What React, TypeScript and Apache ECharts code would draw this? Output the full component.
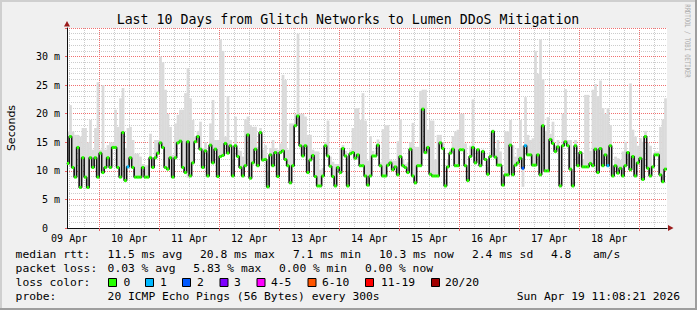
import React, { useEffect, useRef } from 'react';
import * as echarts from 'echarts';

// hours since 09 Apr 00:00
const startHour = 11.139; // Thu Apr 09 11:08:21
const endHour = 251.139; // Sun Apr 19 11:08:21
const firstBucketHour = 11; // hourly RRD buckets

const medianRtt = [
  11.3, 16.0, 10.6, 8.9, 14.1, 7.1, 12.3, 8.9, 7.1, 12.3,
  10.6, 12.3, 8.9, 13.1, 9.7, 10.6, 12.3, 10.6, 14.1, 14.1,
  10.6, 8.9, 16.7, 8.3, 10.7, 12.3, 10.6, 8.9, 8.9, 8.9,
  10.6, 8.9, 8.9, 12.3, 10.6, 12.3, 13.1, 14.9, 14.1, 10.6,
  10.3, 12.3, 8.9, 12.3, 14.9, 15.2, 10.6, 9.7,
  15.1, 9.1, 11.4, 15.1, 16.0, 13.8, 10.6, 13.5, 9.1, 14.5,
  11.4, 13.8, 9.0, 12.5, 12.7, 14.8, 13.1, 14.4, 9.1, 14.4,
  12.5, 10.6, 9.1, 10.9, 16.3, 8.7, 11.4, 13.8, 10.9, 16.7,
  11.9, 12.0, 7.2, 12.8, 10.9, 13.2, 9.0, 13.2, 13.5, 12.0,
  10.9, 7.9, 10.9, 17.9, 19.6, 14.4, 12.6, 14.4,
  9.7, 11.9, 12.7, 9.0, 7.35, 7.35, 9.1, 14.4, 12.6, 10.8,
  9.0, 7.35, 10.6, 9.7, 13.9, 12.6, 7.35, 13.0, 13.2, 12.2,
  12.8, 10.9, 10.9, 9.1, 7.5, 9.1, 12.6, 12.6, 14.5, 10.9,
  9.1, 9.1, 11.0, 11.4, 10.2, 10.7, 9.3, 12.5, 10.9, 10.6,
  9.7, 13.8, 9.1, 7.9, 10.9, 10.9, 20.8, 13.2,
  14.1, 9.4, 9.1, 9.1, 9.1, 14.9, 13.9, 7.35, 10.7, 13.1,
  13.8, 10.9, 10.9, 13.7, 13.7, 10.9, 8.3, 12.5, 14.1, 11.4,
  13.7, 10.9, 13.4, 12.0, 9.4, 12.5, 16.9, 12.4, 11.0, 11.0,
  7.5, 9.3, 9.3, 14.5, 9.3, 11.0, 11.4, 12.2, 10.45, 14.4,
  12.8, 12.8, 11.0, 11.0, 12.8, 9.3, 17.9, 10.0,
  10.0, 15.5, 14.8, 13.4, 14.2, 7.35, 14.4, 15.1, 14.4, 10.3,
  7.35, 14.4, 10.9, 13.2, 10.7, 10.7, 10.7, 11.3, 10.9, 13.8,
  9.7, 13.9, 10.9, 12.8, 10.9, 14.4, 9.1, 10.9, 9.6, 10.45,
  9.1, 10.9, 13.2, 10.2, 12.5, 9.1, 11.4, 12.2, 8.5, 16.0,
  10.45, 9.1, 10.7, 12.8, 12.8, 9.3, 8.1, 10.3,
];

const smokeTop = [
  16.9, 21.5, 16.9, 16.3, 16.3, 16.0, 17.5, 17.5, 15.0, 18.9,
  13.7, 17.5, 25.5, 13.7, 25.0, 13.7, 14.5, 15.0, 15.0, 20.7,
  17.7, 22.7, 24.5, 14.0, 17.5, 17.7, 15.4, 13.0, 13.0, 12.5,
  11.2, 11.0, 11.0, 16.5, 12.4, 15.4, 15.4, 30.0, 29.0, 24.2,
  20.0, 17.7, 12.8, 18.3, 19.8, 20.7, 20.7, 23.6,
  28.0, 22.7, 18.9, 16.0, 17.0, 18.6, 14.0, 15.0, 13.0, 18.3,
  22.4, 15.4, 15.4, 33.0, 31.0, 16.0, 23.1, 15.4, 12.0, 19.5,
  13.7, 13.5, 12.5, 19.0, 19.5, 18.0, 17.7, 17.7, 14.2, 17.5,
  13.7, 14.5, 10.0, 14.0, 15.4, 14.0, 13.7, 14.8, 26.8, 25.9,
  13.7, 18.3, 18.3, 20.0, 34.0, 20.0, 20.0, 19.5,
  16.3, 16.3, 13.7, 13.4, 13.4, 10.2, 10.5, 15.0, 18.8, 12.5,
  11.6, 11.2, 11.2, 14.0, 14.5, 13.5, 10.0, 13.7, 17.5, 21.0,
  21.0, 18.9, 23.6, 18.8, 11.8, 16.1, 13.5, 12.8, 15.5, 11.5,
  17.3, 18.0, 18.0, 12.0, 11.8, 11.8, 15.2, 19.0, 12.0, 11.2,
  11.5, 15.0, 18.4, 14.2, 14.2, 24.0, 24.2, 24.2,
  17.2, 18.8, 18.8, 12.0, 16.3, 16.3, 15.0, 8.5, 12.0, 13.7,
  16.1, 16.9, 17.2, 20.0, 20.0, 14.8, 8.8, 14.4, 22.5, 12.5,
  13.4, 12.0, 13.7, 12.2, 10.7, 12.5, 17.2, 13.8, 15.4, 13.4,
  8.5, 16.9, 16.9, 18.9, 14.5, 12.5, 14.0, 18.9, 14.4, 22.9,
  16.3, 15.4, 15.7, 31.0, 27.0, 33.0, 26.0, 17.0,
  19.4, 16.5, 18.6, 14.5, 15.4, 8.0, 20.0, 24.3, 15.4, 15.4,
  8.0, 15.4, 12.5, 13.5, 12.0, 23.3, 23.3, 13.5, 24.2, 25.2,
  23.1, 25.8, 21.0, 20.0, 21.0, 18.0, 11.0, 12.5, 12.2, 11.9,
  13.4, 15.1, 13.4, 25.3, 17.2, 16.0, 14.4, 15.7, 15.1, 17.0,
  14.9, 14.4, 10.6, 13.4, 13.4, 17.7, 19.0, 22.7,
];

// [bucket index, lowest ping (ms)] where the smoke reaches below the median
const smokeDips = [
  [48, 8.8],
  [182, 7.2],
];

// [bucket index, lost pings out of 20]
const lossBuckets = [
  [24, 1],
  [182, 2],
  [183, 1],
  [216, 1],
];

const lossColors = ['#26ff00', '#00b8ff', '#0059ff', '#7e00ff', '#ff00ff', '#ff5500', '#ff0000', '#a10000'];
const lossLabels = ['0', '1', '2', '3', '4-5', '6-10', '11-19', '20/20'];
const lossBoxX = [108, 145, 182, 219.5, 256.5, 307.5, 365, 431];
const lossLabelX = [123.5, 160, 197, 234, 271, 322, 381, 445];

const dayLabelHours = [12, 36, 60, 84, 108, 132, 156, 180, 204, 228];
const midnightHours = [24, 48, 72, 96, 120, 144, 168, 192, 216, 240];
const sixHourGridHours = [
  12, 18, 30, 36, 42, 54, 60, 66, 78, 84, 90, 102, 108, 114, 126, 132, 138,
  150, 156, 162, 174, 180, 186, 198, 204, 210, 222, 228, 234, 246,
];
const msMajorTicks = [5, 10, 15, 20, 25, 30, 35];
const msMinorTicks = [
  1, 2, 3, 4, 6, 7, 8, 9, 11, 12, 13, 14, 16, 17, 18, 19, 21, 22, 23, 24,
  26, 27, 28, 29, 31, 32, 33, 34,
];

const title = 'Last 10 Days from Glitch Networks to Lumen DDoS Mitigation';
const rttLegend = [
  ['median rtt:', 15.6],
  ['11.5 ms avg', 107.6],
  ['20.8 ms max', 200],
  ['7.1 ms min', 293],
  ['10.3 ms now', 379],
  ['2.4 ms sd', 472],
  ['4.8', 551],
  ['am/s', 593],
];
const lossLegend = [
  ['packet loss:', 15.6],
  ['0.03 % avg', 107.6],
  ['5.83 % max', 193.3],
  ['0.00 % min', 279],
  ['0.00 % now', 365],
];
const probeText = '20 ICMP Echo Pings (56 Bytes) every 300s';
const stampText = 'Sun Apr 19 11:08:21 2026';

const MONO = '"DejaVu Sans Mono", monospace';

export default function App() {
  const ref = useRef<HTMLDivElement>(null);

  useEffect(() => {
    if (!ref.current) return;
    const chart = echarts.init(ref.current, null, { renderer: 'svg' });

    const lossOf = (j: number) => {
      const f = lossBuckets.find((b) => b[0] === j);
      return f ? f[1] : 0;
    };
    const dipOf = (j: number) => {
      const f = smokeDips.find((b) => b[0] === j);
      return f ? f[1] : null;
    };

    const smokeData = medianRtt.map((m, j) => {
      const d = dipOf(j);
      const lo = d !== null ? Math.min(d, m) : m;
      return [firstBucketHour + j, firstBucketHour + j + 1, lo, Math.max(smokeTop[j], m)];
    });
    const lineData = medianRtt.map((m, j) => [firstBucketHour + j, m]);
    lineData.push([endHour, medianRtt[medianRtt.length - 1]]);
    const segData = medianRtt.map((m, j) => [firstBucketHour + j, firstBucketHour + j + 1, m, lossOf(j)]);

    const txt = (text: string, x: number, y: number, size: number, extra: any = {}) => ({
      type: 'text',
      x,
      y,
      silent: true,
      style: {
        text,
        fill: '#000',
        font: `${size}px ${MONO}`,
        textAlign: 'left',
        textVerticalAlign: 'middle',
        align: 'left',
        verticalAlign: 'middle',
        ...extra,
      },
    });

    const graphics: any[] = [
      { type: 'rect', shape: { x: 0, y: 0, width: 697, height: 2 }, style: { fill: '#cfcfcf' }, silent: true },
      { type: 'rect', shape: { x: 0, y: 0, width: 2, height: 310 }, style: { fill: '#cfcfcf' }, silent: true },
      { type: 'rect', shape: { x: 0, y: 308, width: 697, height: 2 }, style: { fill: '#9e9e9e' }, silent: true },
      { type: 'rect', shape: { x: 695, y: 0, width: 2, height: 310 }, style: { fill: '#9e9e9e' }, silent: true },
      txt(title, 348, 19.5, 13.25, { textAlign: 'center', align: 'center' }),
      {
        type: 'text',
        x: 11,
        y: 128,
        rotation: Math.PI / 2,
        silent: true,
        style: {
          text: 'Seconds',
          fill: '#000',
          font: '11px "DejaVu Sans", sans-serif',
          textAlign: 'center',
          textVerticalAlign: 'middle',
          align: 'center',
          verticalAlign: 'middle',
        },
      },
      {
        type: 'text',
        x: 687,
        y: 41,
        rotation: -Math.PI / 2,
        scaleX: 0.74,
        silent: true,
        style: {
          text: 'RRDTOOL / TOBI OETIKER',
          fill: '#ababab',
          font: `7.5px ${MONO}`,
          textAlign: 'center',
          textVerticalAlign: 'middle',
          align: 'center',
          verticalAlign: 'middle',
        },
      },
      // axis arrows
      { type: 'polygon', shape: { points: [[67, 21], [64, 26.5], [70, 26.5]] }, style: { fill: '#9b1c1c' }, silent: true },
      { type: 'polygon', shape: { points: [[673.5, 228], [668, 225], [668, 231]] }, style: { fill: '#9b1c1c' }, silent: true },
    ];

    rttLegend.forEach(([t, x]) => graphics.push(txt(t as string, x as number, 254.5, 11.3)));
    lossLegend.forEach(([t, x]) => graphics.push(txt(t as string, x as number, 268.5, 11.3)));
    graphics.push(txt('loss color:', 15.6, 282.5, 11.3));
    lossColors.forEach((c, i) => {
      graphics.push({
        type: 'rect',
        shape: { x: lossBoxX[i] + 0.5, y: 278.5, width: 8, height: 8 },
        style: { fill: c, stroke: '#000', lineWidth: 1 },
        silent: true,
      });
      graphics.push(txt(lossLabels[i], lossLabelX[i], 282.5, 11.3));
    });
    graphics.push(txt('probe:', 15.6, 296.5, 11.3));
    graphics.push(txt(probeText, 107.6, 296.5, 11.3));
    graphics.push(txt(stampText, 680, 296.5, 11.3, { textAlign: 'right', align: 'right' }));

    const majorGrid = () => ({ color: '#f07070', width: 1, type: [1, 1] });
    const minorGrid = () => ({ color: '#cccccc', width: 1, type: [1, 1] });

    const gridAxisX = (values: number[], style: any, z: number) => ({
      type: 'value',
      min: startHour,
      max: endHour,
      position: 'top',
      z,
      axisLine: { show: false },
      axisTick: { show: false, customValues: values },
      axisLabel: { show: false, customValues: values },
      splitLine: { show: true, lineStyle: style },
    });
    const gridAxisY = (values: number[], style: any, z: number) => ({
      type: 'value',
      min: 0,
      max: 35,
      position: 'right',
      z,
      axisLine: { show: false },
      axisTick: { show: false, customValues: values },
      axisLabel: { show: false, customValues: values },
      splitLine: { show: true, lineStyle: style },
    });

    chart.setOption({
      animation: false,
      backgroundColor: '#f0f0f0',
      grid: {
        left: 67,
        top: 28,
        width: 600,
        height: 200,
        show: true,
        backgroundColor: '#ffffff',
        borderWidth: 0,
        containLabel: false,
      },
      xAxis: [
        {
          type: 'value',
          min: startHour,
          max: endHour,
          position: 'bottom',
          z: 3,
          axisLine: { show: true, lineStyle: { color: '#101010', width: 1 } },
          axisTick: {
            show: true,
            length: 3,
            customValues: midnightHours,
            lineStyle: { color: '#ee6060' },
          },
          axisLabel: {
            customValues: dayLabelHours,
            formatter: (v: number) => {
              const d = 9 + Math.floor(v / 24);
              return (d < 10 ? '0' : '') + d + ' Apr';
            },
            fontFamily: 'DejaVu Sans Mono',
            fontSize: 10,
            color: '#000',
            margin: 5,
          },
          splitLine: { show: false },
        },
        gridAxisX(sixHourGridHours, minorGrid(), 0),
        gridAxisX(midnightHours, majorGrid(), 1),
      ],
      yAxis: [
        {
          type: 'value',
          min: 0,
          max: 35,
          interval: 5,
          z: 3,
          axisLine: { show: true, lineStyle: { color: '#101010', width: 1 } },
          axisTick: { show: true, length: 2, lineStyle: { color: '#ee6060' } },
          axisLabel: {
            formatter: (v: number) => (v === 0 ? '0\u00a0\u00a0' : v === 35 ? '' : v + ' m'),
            fontFamily: 'DejaVu Sans Mono',
            fontSize: 10,
            color: '#000',
            margin: 7,
          },
          splitLine: { show: false },
        },
        gridAxisY(msMinorTicks, minorGrid(), 0),
        gridAxisY(msMajorTicks, majorGrid(), 1),
      ],
      graphic: graphics,
      series: [
        {
          type: 'custom',
          name: 'smoke',
          xAxisIndex: 0,
          yAxisIndex: 0,
          clip: true,
          z: 2,
          silent: true,
          encode: { x: [0, 1], y: [2, 3] },
          data: smokeData,
          renderItem: (params: any, api: any) => {
            const a = api.coord([api.value(0), api.value(3)]);
            const b = api.coord([api.value(1), api.value(2)]);
            return {
              type: 'rect',
              shape: { x: a[0], y: a[1], width: b[0] - a[0] + 0.2, height: b[1] - a[1] },
              style: { fill: '#dadada' },
            };
          },
        },
        {
          type: 'line',
          name: 'median',
          xAxisIndex: 0,
          yAxisIndex: 0,
          step: 'end',
          showSymbol: false,
          symbol: 'none',
          z: 3,
          silent: true,
          lineStyle: { color: '#101010', width: 1.6 },
          data: lineData,
        },
        {
          type: 'custom',
          name: 'loss',
          xAxisIndex: 0,
          yAxisIndex: 0,
          clip: true,
          z: 4,
          silent: true,
          encode: { x: [0, 1], y: 2 },
          data: segData,
          renderItem: (params: any, api: any) => {
            const a = api.coord([api.value(0), api.value(2)]);
            const b = api.coord([api.value(1), api.value(2)]);
            return {
              type: 'rect',
              shape: { x: a[0], y: a[1] - 1.5, width: b[0] - a[0], height: 3 },
              style: { fill: lossColors[api.value(3)] },
            };
          },
        },
      ],
    });

    return () => chart.dispose();
  }, []);

  return (
    <div
      ref={ref}
      style={{ position: 'absolute', left: 0, top: 0, width: 697, height: 310 }}
    />
  );
}
